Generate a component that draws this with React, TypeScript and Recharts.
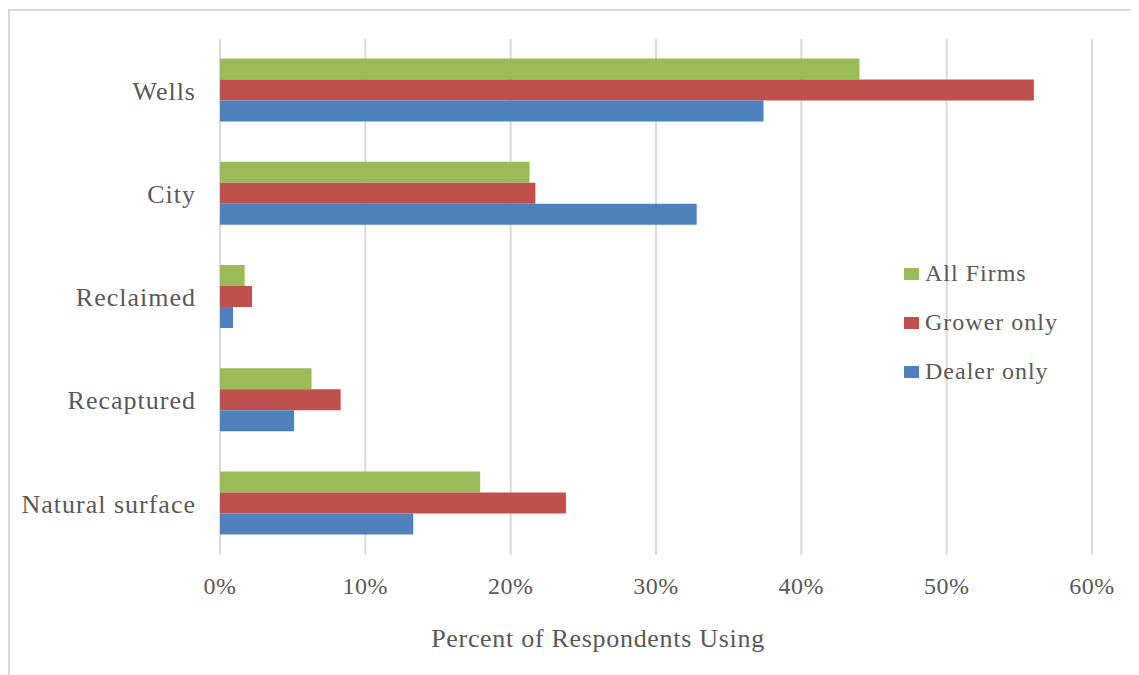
import { BarChart, Bar, XAxis, YAxis, CartesianGrid } from 'recharts'

const sources = ['Wells', 'City', 'Reclaimed', 'Recaptured', 'Natural surface']
const allFirms = [44.0, 21.3, 1.7, 6.3, 17.9]
const growerOnly = [56.0, 21.7, 2.2, 8.3, 23.8]
const dealerOnly = [37.4, 32.8, 0.9, 5.1, 13.3]
const pctTicks = [0, 10, 20, 30, 40, 50, 60]

const series = [
  { key: 'all', name: 'All Firms', color: '#9BBB59' },
  { key: 'grower', name: 'Grower only', color: '#C0504D' },
  { key: 'dealer', name: 'Dealer only', color: '#4F81BD' },
]

const data = sources.map((source, i) => ({
  source,
  all: allFirms[i],
  grower: growerOnly[i],
  dealer: dealerOnly[i],
}))

const FONT = '"Liberation Serif", "Times New Roman", serif'
const TEXT = '#595959'
const GRID = '#D9D9D9'

// axis title is centred a bit left of the plot area
function AxisTitle(props: any) {
  const vb = props.viewBox || { x: 0, y: 0, width: 0, height: 0 }
  return (
    <text
      x={vb.x + vb.width / 2 - 58}
      y={vb.y + vb.height - 29}
      textAnchor="middle"
      fill={TEXT}
      fontSize={26}
      fontFamily={FONT}
      letterSpacing={0.7}
    >
      Percent of Respondents Using
    </text>
  )
}

// legend sits inside the plot, to the right of the short bars
function SeriesLegend() {
  return (
    <ul
      style={{
        position: 'absolute',
        left: 894,
        top: 238,
        listStyle: 'none',
        margin: 0,
        padding: 0,
        fontFamily: FONT,
      }}
    >
      {series.map((s) => (
        <li key={s.key} style={{ display: 'flex', alignItems: 'center', height: 49 }}>
          <span
            style={{
              display: 'inline-block',
              width: 15,
              height: 12,
              background: s.color,
              marginRight: 6,
            }}
          />
          <span style={{ fontSize: 24, color: TEXT, letterSpacing: 1, whiteSpace: 'nowrap' }}>
            {s.name}
          </span>
        </li>
      ))}
    </ul>
  )
}

export default function App() {
  return (
    <div
      style={{
        position: 'relative',
        top: 1,
        width: 1131,
        height: 667,
        borderTop: `2px solid ${GRID}`,
        borderLeft: `2px solid ${GRID}`,
        boxSizing: 'border-box',
        background: '#fff',
      }}
    >
      <BarChart
        width={1129}
        height={665}
        data={data}
        layout="vertical"
        margin={{ top: 28, right: 47, bottom: 0, left: 0 }}
        barCategoryGap="19%"
        barGap={0}
      >
        <CartesianGrid horizontal={false} stroke={GRID} strokeWidth={2} />
        <XAxis
          type="number"
          domain={[0, 60]}
          ticks={pctTicks}
          tickFormatter={(v) => `${v}%`}
          axisLine={false}
          tickLine={false}
          tickSize={0}
          tickMargin={22}
          height={121}
          tick={{ fill: TEXT, fontSize: 24, fontFamily: FONT, letterSpacing: 0.5 }}
          label={<AxisTitle />}
        />
        <YAxis
          type="category"
          dataKey="source"
          width={210}
          axisLine={false}
          tickLine={false}
          tickSize={0}
          tickMargin={24}
          tick={{ fill: TEXT, fontSize: 26, fontFamily: FONT, letterSpacing: 1 }}
        />
        {series.map((s) => (
          <Bar
            key={s.key}
            dataKey={s.key}
            name={s.name}
            fill={s.color}
            isAnimationActive={false}
          />
        ))}
      </BarChart>
      <SeriesLegend />
    </div>
  )
}
